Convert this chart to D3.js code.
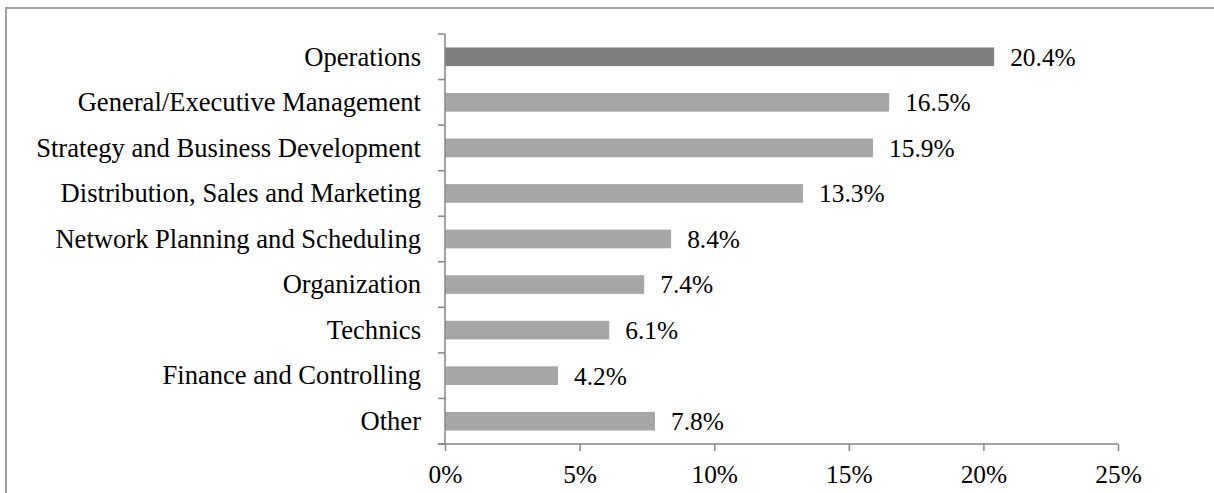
<!DOCTYPE html>
<html>
<head>
<meta charset="utf-8">
<script src="https://cdn.jsdelivr.net/npm/d3@7"></script>
<style>
  html, body { margin: 0; padding: 0; background: #fff; }
  svg { display: block; }
  text { font-family: "Liberation Serif", "Times New Roman", serif; fill: #000; }
</style>
</head>
<body>
<svg id="chart" width="1214" height="493"></svg>
<script>
const categories = [
  "Operations",
  "General/Executive Management",
  "Strategy and Business Development",
  "Distribution, Sales and Marketing",
  "Network Planning and Scheduling",
  "Organization",
  "Technics",
  "Finance and Controlling",
  "Other"
];
const values = [20.4, 16.5, 15.9, 13.3, 8.4, 7.4, 6.1, 4.2, 7.8];
const valueLabels = ["20.4%", "16.5%", "15.9%", "13.3%", "8.4%", "7.4%", "6.1%", "4.2%", "7.8%"];
const xTicks = [0, 5, 10, 15, 20, 25];
const xTickLabels = ["0%", "5%", "10%", "15%", "20%", "25%"];

const svg = d3.select("#chart");
const axisColor = "#868686";
const catFontSize = 26.6;
const numFontSize = 25.4;

// outer frame (only left and top visible)
svg.append("path")
  .attr("d", "M6,500 L6,8 L1220,8")
  .attr("fill", "none")
  .attr("stroke", "#a0a0a0")
  .attr("stroke-width", 2);

const x = d3.scaleLinear().domain([0, 25]).range([445, 1118]);
const y = d3.scaleBand().domain(categories).range([34, 444]).paddingInner(0).paddingOuter(0);
const bw = y.bandwidth();
const barH = bw * 0.41;

// bars
svg.append("g").selectAll("rect")
  .data(categories)
  .join("rect")
  .attr("x", x(0))
  .attr("y", d => y(d) + (bw - barH) / 2)
  .attr("width", (d, i) => x(values[i]) - x(0))
  .attr("height", barH)
  .attr("fill", (d, i) => i === 0 ? "#7f7f7f" : "#a6a6a6");

// value labels
svg.append("g").selectAll("text")
  .data(categories)
  .join("text")
  .attr("x", (d, i) => x(values[i]) + 16)
  .attr("y", d => y(d) + bw / 2)
  .attr("dy", "0.35em")
  .attr("font-size", numFontSize)
  .text((d, i) => valueLabels[i]);

// y axis: line with boundary ticks to the left
const yAxisG = svg.append("g");
yAxisG.append("line")
  .attr("x1", x(0)).attr("x2", x(0))
  .attr("y1", y.range()[0]).attr("y2", y.range()[1])
  .attr("stroke", axisColor).attr("stroke-width", 1.5);
const boundaries = categories.map(c => y(c)).concat([y.range()[1]]);
yAxisG.selectAll("line.tick")
  .data(boundaries)
  .join("line")
  .attr("class", "tick")
  .attr("x1", x(0) - 7).attr("x2", x(0))
  .attr("y1", d => d).attr("y2", d => d)
  .attr("stroke", axisColor).attr("stroke-width", 1.5);
yAxisG.selectAll("text")
  .data(categories)
  .join("text")
  .attr("x", x(0) - 24)
  .attr("y", d => y(d) + bw / 2)
  .attr("dy", "0.33em")
  .attr("text-anchor", "end")
  .attr("font-size", catFontSize)
  .text(d => d);

// x axis
const xAxis = d3.axisBottom(x)
  .tickValues(xTicks)
  .tickSize(7)
  .tickSizeOuter(0)
  .tickPadding(14)
  .tickFormat((d, i) => xTickLabels[i]);
const xg = svg.append("g")
  .attr("transform", `translate(0,${y.range()[1]})`)
  .call(xAxis);
xg.select(".domain").remove();
xg.append("line")
  .attr("x1", x(0) - 7).attr("x2", x(25))
  .attr("y1", 0).attr("y2", 0)
  .attr("stroke", axisColor).attr("stroke-width", 1.5);
xg.selectAll(".tick line").attr("stroke", axisColor).attr("stroke-width", 1.5);
xg.selectAll(".tick text")
  .attr("font-family", "Liberation Serif, Times New Roman, serif")
  .attr("font-size", numFontSize)
  .attr("fill", "#000");
</script>
</body>
</html>
